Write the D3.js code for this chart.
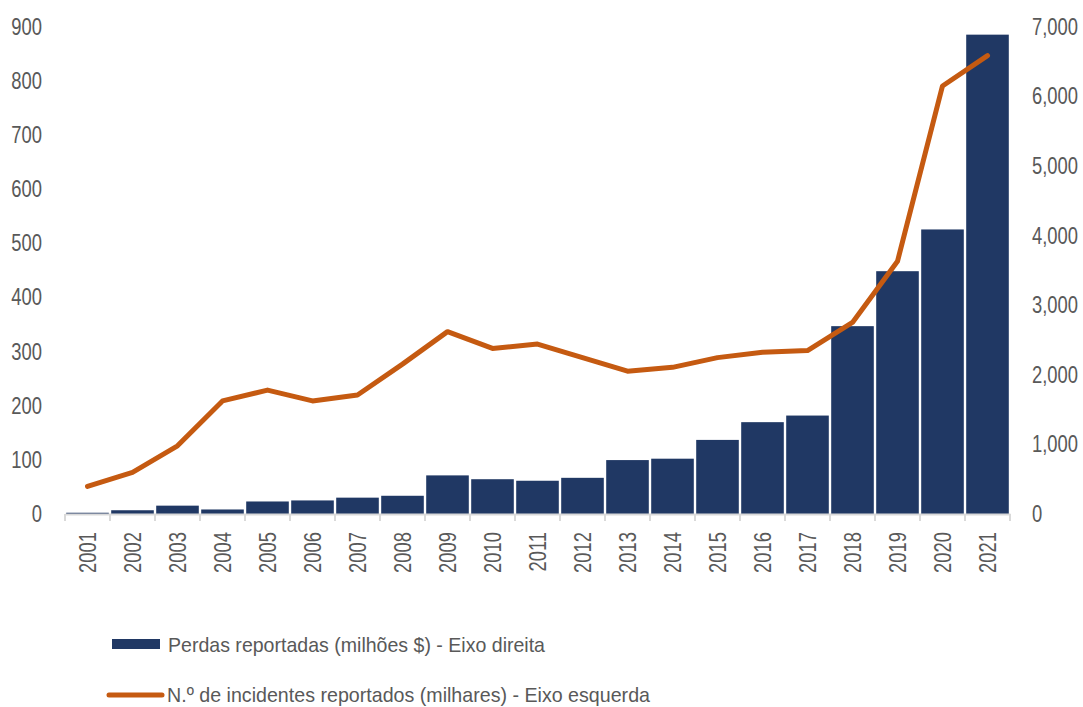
<!doctype html>
<html>
<head>
<meta charset="utf-8">
<style>
  body { margin: 0; background: #fff; }
  svg text { font-family: "Liberation Sans", Arial, sans-serif; fill: #595959; }
</style>
<script src="https://d3js.org/d3.v7.min.js"></script>
</head>
<body>
<svg width="1083" height="707"></svg>
<script>
// data
var years = ["2001","2002","2003","2004","2005","2006","2007","2008","2009","2010","2011",
             "2012","2013","2014","2015","2016","2017","2018","2019","2020","2021"];
var perdas = [18, 54, 120, 65, 180, 195, 235, 262, 555, 500, 478,
              520, 775, 795, 1065, 1320, 1415, 2700, 3490, 4090, 6890];   // millions $, right axis
var incidentes = [51, 77, 126, 209, 229, 209, 220, 277, 337, 306, 314,
                  289, 264, 271, 289, 299, 302, 354, 467, 791, 847];      // thousands, left axis
var leftTicks = [0, 100, 200, 300, 400, 500, 600, 700, 800, 900];
var rightTicks = [0, 1000, 2000, 3000, 4000, 5000, 6000, 7000];
var legendLabels = ["Perdas reportadas (milhões $) - Eixo direita",
                    "N.º de incidentes reportados (milhares) - Eixo esquerda"];

var svg = d3.select("svg");
var plotLeft = 65, plotRight = 1010, plotTop = 27, plotBottom = 514;
var squeeze = "scale(0.8,1)";   // the reference uses a narrow font

var x = d3.scaleBand().domain(years).range([plotLeft, plotRight]).padding(0);
var yL = d3.scaleLinear().domain([0, 900]).range([plotBottom, plotTop]);
var yR = d3.scaleLinear().domain([0, 7000]).range([plotBottom, plotTop]);

// bars (right axis)
svg.append("g").selectAll("rect")
   .data(perdas)
   .enter().append("rect")
   .attr("x", function(d, i) { return x(years[i]) + 1.2; })
   .attr("width", x.bandwidth() - 2.4)
   .attr("y", function(d) { return yR(d); })
   .attr("height", function(d) { return plotBottom - yR(d); })
   .attr("fill", "#203864");

// x axis
var xAxis = svg.append("g")
   .attr("transform", "translate(0," + plotBottom + ")")
   .call(d3.axisBottom(x).tickSize(0).tickPadding(0));
xAxis.select(".domain").attr("stroke", "#d9d9d9").attr("stroke-width", 2);
xAxis.selectAll("text")
   .attr("font-size", "23px")
   .attr("fill", "#595959")
   .attr("transform", "rotate(-90) " + squeeze)
   .attr("text-anchor", "end")
   .attr("x", -18 / 0.8)
   .attr("y", 0)
   .attr("dy", "0.35em");
// boundary ticks between categories
var bounds = years.map(function(d) { return x(d); }).concat([plotRight]);
svg.append("g").selectAll("line")
   .data(bounds)
   .enter().append("line")
   .attr("x1", function(d) { return d; })
   .attr("x2", function(d) { return d; })
   .attr("y1", plotBottom)
   .attr("y2", plotBottom + 7)
   .attr("stroke", "#d9d9d9")
   .attr("stroke-width", 2);

// left axis
var gl = svg.append("g")
   .attr("transform", "translate(42,0)")
   .call(d3.axisLeft(yL).tickValues(leftTicks).tickSize(0).tickPadding(0));
gl.select(".domain").remove();
gl.selectAll("text").attr("font-size", "23px").attr("fill", "#595959").attr("transform", squeeze);

// right axis
var gr = svg.append("g")
   .attr("transform", "translate(1032,0)")
   .call(d3.axisRight(yR).tickValues(rightTicks).tickSize(0).tickPadding(0).tickFormat(d3.format(",")));
gr.select(".domain").remove();
gr.selectAll("text").attr("font-size", "23px").attr("fill", "#595959").attr("transform", squeeze);

// line (left axis)
var line = d3.line()
   .x(function(d, i) { return x(years[i]) + x.bandwidth() / 2; })
   .y(function(d) { return yL(d); });
svg.append("path")
   .datum(incidentes)
   .attr("d", line)
   .attr("fill", "none")
   .attr("stroke", "#C55A11")
   .attr("stroke-width", 5)
   .attr("stroke-linecap", "round")
   .attr("stroke-linejoin", "round");

// legend
var lg = svg.append("g");
lg.append("rect")
   .attr("x", 112).attr("y", 639).attr("width", 48).attr("height", 10)
   .attr("fill", "#203864");
lg.append("text")
   .attr("x", 168).attr("y", 645).attr("dy", "0.35em")
   .attr("font-size", "21px")
   .attr("textLength", 377).attr("lengthAdjust", "spacingAndGlyphs")
   .text(legendLabels[0]);
lg.append("line")
   .attr("x1", 109).attr("x2", 162).attr("y1", 695).attr("y2", 695)
   .attr("stroke", "#C55A11").attr("stroke-width", 5).attr("stroke-linecap", "round");
lg.append("text")
   .attr("x", 167).attr("y", 695).attr("dy", "0.35em")
   .attr("font-size", "21px")
   .attr("textLength", 483).attr("lengthAdjust", "spacingAndGlyphs")
   .text(legendLabels[1]);
</script>
</body>
</html>
